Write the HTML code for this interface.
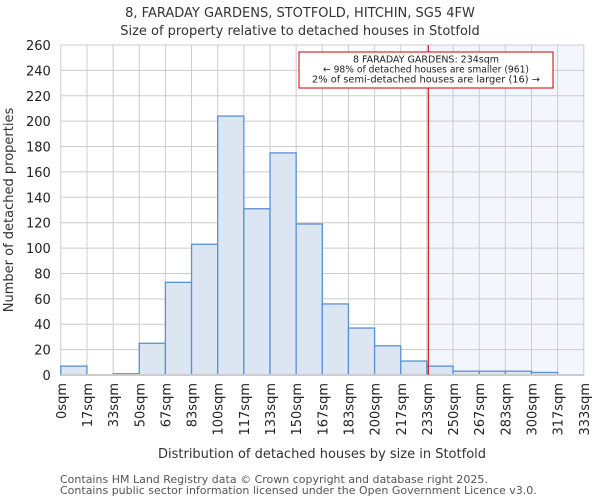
<!DOCTYPE html>
<html><head><meta charset="utf-8"><style>
body{margin:0;background:#fff;font-family:"DejaVu Sans","Liberation Sans",sans-serif}
svg text{font-family:"DejaVu Sans","Liberation Sans",sans-serif}
</style></head><body>
<svg id="chart" width="600" height="500">
<text x="300" y="17" font-size="13" text-anchor="middle" fill="#333">8, FARADAY GARDENS, STOTFOLD, HITCHIN, SG5 4FW</text>
<text x="300" y="35" font-size="13" text-anchor="middle" fill="#333">Size of property relative to detached houses in Stotfold</text>
<g id="plot"></g>
<text x="322" y="458" font-size="13" text-anchor="middle" fill="#333">Distribution of detached houses by size in Stotfold</text>
<text transform="translate(13,210) rotate(-90)" font-size="13" text-anchor="middle" fill="#333">Number of detached properties</text>
<text x="60" y="483" font-size="11" fill="#555">Contains HM Land Registry data © Crown copyright and database right 2025.</text>
<text x="60" y="494" font-size="11" fill="#555">Contains public sector information licensed under the Open Government Licence v3.0.</text>
</svg>
<script>
const binLabels=["0sqm","17sqm","33sqm","50sqm","67sqm","83sqm","100sqm","117sqm","133sqm","150sqm","167sqm","183sqm","200sqm","217sqm","233sqm","250sqm","267sqm","283sqm","300sqm","317sqm","333sqm"];
const binEdges=[0,16.65,33.3,49.95,66.6,83.25,99.9,116.55,133.2,149.85,166.5,183.15,199.8,216.45,233.1,249.75,266.4,283.05,299.7,316.35,333];
const counts=[7,0,1,25,73,103,204,131,175,119,56,37,23,11,7,3,3,3,2,0];
const yTicks=[0,20,40,60,80,100,120,140,160,180,200,220,240,260];
const propertySize=234;
const NS="http://www.w3.org/2000/svg";
const L=60.8,R=583.8,T=45,B=375,YMAX=260;
const xs=v=>L+(v-binEdges[0])/(binEdges[binEdges.length-1]-binEdges[0])*(R-L);
const ys=v=>B-v/YMAX*(B-T);
const g=document.getElementById('plot');
function mk(t,a){const e=document.createElementNS(NS,t);for(const k in a)e.setAttribute(k,a[k]);g.appendChild(e);return e;}
const px=xs(propertySize);
let sh=mk('rect',{x:px,y:T,width:R-px,height:B-T,fill:'#f3f6fd'});


yTicks.forEach(t=>{
 let l=mk('line',{x1:L,x2:R,y1:ys(t),y2:ys(t),stroke:'#cccccc','stroke-width':1});
 
 
 let tx=mk('text',{x:L-10,y:ys(t)+5,'font-size':13,'text-anchor':'end',fill:'#222'});
 tx.textContent=t;
 
 
});
binEdges.forEach((e,i)=>{
 let l=mk('line',{x1:xs(e),x2:xs(e),y1:T,y2:B,stroke:'#cccccc','stroke-width':1});
 
 
 let tx=mk('text',{transform:`translate(${xs(e)+5},383) rotate(-90)`,'font-size':13,'text-anchor':'end',fill:'#222'});
 tx.textContent=binLabels[i];
 
 
});
counts.forEach((c,i)=>{
 if(c<=0)return;
 let r=mk('rect',{x:xs(binEdges[i]),y:ys(c),width:xs(binEdges[i+1])-xs(binEdges[i]),height:B-ys(c),fill:'#dce6f3',stroke:'#5b8fd6','stroke-width':1.3});
 
 
});
let ax=mk('line',{x1:L,x2:R,y1:B,y2:B,stroke:'#cccccc','stroke-width':2});


let vl=mk('line',{x1:px,x2:px,y1:T,y2:B,stroke:'#cc0000','stroke-width':1});


let box=mk('rect',{x:299,y:52,width:254,height:36,fill:'#fff',stroke:'#cc0000','stroke-width':1});


["8 FARADAY GARDENS: 234sqm","← 98% of detached houses are smaller (961)","2% of semi-detached houses are larger (16) →"].forEach((s,i)=>{
 let t=mk('text',{x:426,y:62.5+i*10,'font-size':10,'text-anchor':'middle',fill:'#222',textLength:i==0?146:(i==1?206:228),lengthAdjust:'spacingAndGlyphs'});
 t.textContent=s;
 
 
});
</script>
</body></html>
